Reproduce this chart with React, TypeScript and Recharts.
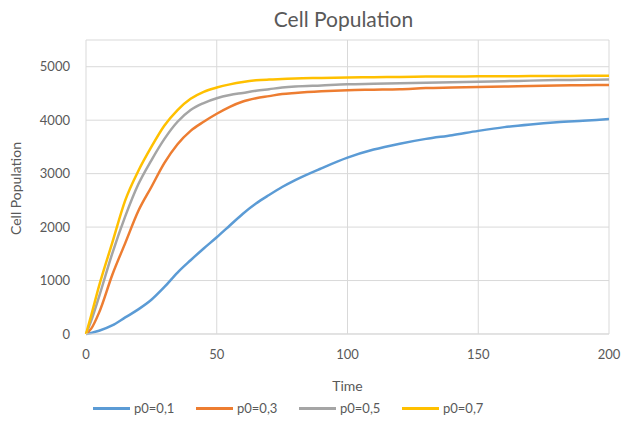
import React from "react";
import { LineChart, Line, XAxis, YAxis, CartesianGrid, Legend } from "recharts";

const FONT = "Lato, 'Open Sans', sans-serif";
const TXT = "#595959";

// time points and series values
const times = [0, 2, 5, 10, 15, 20, 25, 30, 35, 40, 45, 50, 55, 60, 65, 70, 75, 80, 90, 100, 110, 120, 130, 140, 150, 160, 170, 180, 190, 200];
const p01 = [0, 20, 60, 160, 310, 460, 640, 880, 1150, 1380, 1600, 1810, 2030, 2250, 2440, 2600, 2750, 2880, 3100, 3300, 3450, 3560, 3650, 3720, 3800, 3870, 3920, 3960, 3990, 4020];
const p03 = [0, 100, 400, 1100, 1700, 2300, 2750, 3200, 3550, 3800, 3970, 4120, 4250, 4350, 4410, 4450, 4490, 4510, 4540, 4560, 4570, 4580, 4600, 4610, 4620, 4630, 4640, 4650, 4655, 4660];
const p05 = [0, 250, 700, 1500, 2200, 2800, 3250, 3650, 3970, 4190, 4320, 4410, 4470, 4510, 4550, 4580, 4610, 4630, 4650, 4670, 4680, 4690, 4700, 4710, 4720, 4730, 4740, 4750, 4755, 4760];
const p07 = [0, 350, 900, 1700, 2500, 3050, 3500, 3900, 4190, 4400, 4530, 4610, 4670, 4715, 4745, 4760, 4770, 4780, 4790, 4800, 4805, 4810, 4815, 4818, 4820, 4822, 4825, 4827, 4829, 4830];

const yTicks = [0, 1000, 2000, 3000, 4000, 5000];
const xTicks = [0, 50, 100, 150, 200];

const series = [
  { key: "p01", name: "p0=0,1", color: "#5b9bd5" },
  { key: "p03", name: "p0=0,3", color: "#ed7d31" },
  { key: "p05", name: "p0=0,5", color: "#a5a5a5" },
  { key: "p07", name: "p0=0,7", color: "#ffc000" },
];

const data = times.map((t, i) => ({ t, p01: p01[i], p03: p03[i], p05: p05[i], p07: p07[i] }));

const LegendBox = () => (
  <div style={{ display: "flex", fontFamily: FONT, fontSize: 13, color: TXT, paddingLeft: 93, paddingTop: 1 }}>
    {series.map((s) => (
      <div key={s.key} style={{ display: "flex", alignItems: "center", width: 103 }}>
        <span style={{ display: "inline-block", width: 37, height: 3, background: s.color, marginRight: 4 }} />
        <span>{s.name}</span>
      </div>
    ))}
  </div>
);

export default function App() {
  return (
    <div style={{ position: "absolute", left: 0, top: 0, width: 623, height: 427, background: "#fff" }}>
      <div style={{ position: "absolute", top: 6, width: 623, textAlign: "center", paddingLeft: 64, boxSizing: "border-box", fontFamily: FONT, fontSize: 21, color: TXT }}>
        Cell Population
      </div>
      <LineChart width={623} height={427} data={data} margin={{ top: 40, right: 14, left: 0, bottom: 0 }}>
        <CartesianGrid stroke="#d9d9d9" />
        <XAxis
          dataKey="t" type="number" domain={[0, 200]} ticks={xTicks} height={65}
          tick={{ fill: TXT, fontSize: 13, fontFamily: FONT }} tickLine={false} stroke="#d9d9d9"
          tickMargin={10}
          label={{ value: "Time", position: "insideBottom", offset: 8, fill: TXT, fontSize: 14, fontFamily: FONT }}
        />
        <YAxis
          type="number" domain={[0, 5500]} ticks={yTicks} width={86} axisLine={false} tickLine={false}
          tick={{ fill: TXT, fontSize: 13, fontFamily: FONT }} tickMargin={10}
          label={{ value: "Cell Population", angle: -90, position: "insideLeft", offset: 16, dy: 48, fill: TXT, fontSize: 14, fontFamily: FONT }}
        />
        <Legend verticalAlign="bottom" height={28} content={<LegendBox />} />
        {series.map((s) => (
          <Line key={s.key} dataKey={s.key} name={s.name} stroke={s.color} strokeWidth={2.5} dot={false} type="monotone" isAnimationActive={false} />
        ))}
      </LineChart>
    </div>
  );
}
